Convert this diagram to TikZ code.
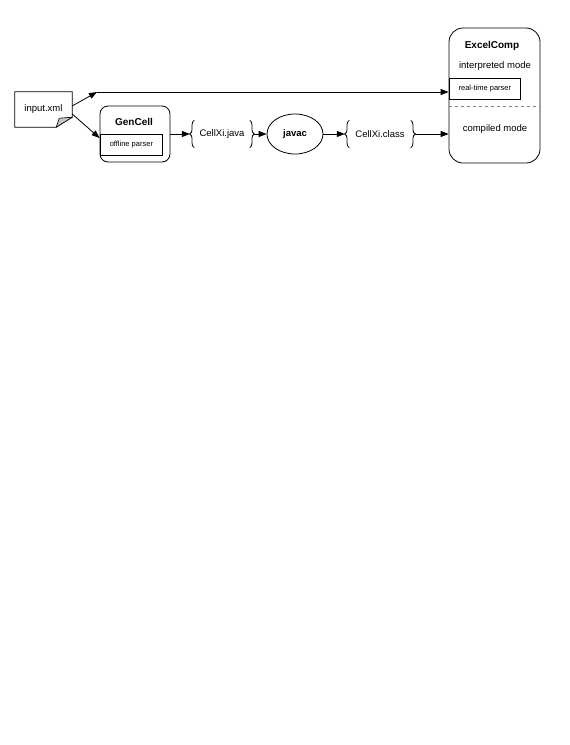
\documentclass[tikz,border=0pt]{standalone}
\usepackage{fontspec}
\setmainfont{Liberation Sans}
\usetikzlibrary{shapes.geometric, arrows.meta, positioning, decorations.pathreplacing}
\tikzset{
    module/.style = {rectangle, rounded corners=8pt, draw=black, line width=0.8pt},
    parser/.style = {rectangle, draw=black, line width=0.8pt, font=\fontsize{7.5}{9}\selectfont},
    filebox/.style = {rectangle, minimum height=27pt, text centered, font=\fontsize{9.5}{11}\selectfont},
    compiler/.style = {ellipse, minimum width=56pt, minimum height=40pt, draw=black, line width=0.8pt, font=\bfseries\fontsize{9.5}{11}\selectfont},
    title/.style = {font=\bfseries\fontsize{10}{12}\selectfont},
    modetext/.style = {font=\fontsize{9.5}{11}\selectfont},
    curly/.style = {decorate, decoration={brace, amplitude=4.5pt}, line width=0.8pt},
    arrow/.style = {line width=0.8pt, -{Triangle[length=8pt, width=6pt]}}
}

\begin{document}
\begin{tikzpicture}[x=1pt, y=-1pt]
\useasboundingbox (0,0) rectangle (570,745);

% input document
\node (input) [minimum width=57pt, minimum height=35pt, font=\fontsize{9.5}{11}\selectfont] at (43.5,109.5) {input.xml};
\draw[line width=0.8pt] (input.north west) -- (input.north east) -- ([yshift=10pt]input.south east)
    -- ([xshift=-16pt]input.south east) -- (input.south west) -- cycle;
\fill[gray!45, draw=black, line width=0.6pt] ([xshift=-16pt]input.south east) -- ([xshift=-13pt, yshift=9pt]input.south east)
    -- ([yshift=10pt]input.south east) -- cycle;
\coordinate (split) at (97,92);

% generator
\node (gencell) [module, minimum width=70pt, minimum height=56pt] at (135,134) {};
\node (gentitle) [title] at (134,122) {GenCell};
\node (offline) [parser, minimum width=62pt, minimum height=21pt, anchor=west] at (100,144.5) {offline parser};

% files and compiler
\node (java) [filebox, minimum width=64pt] at (222,134) {CellXi.java};
\node (javac) [compiler] at (295,134) {javac};
\node (class) [filebox, minimum width=70pt] at (380,134) {CellXi.class};
\draw[curly] ([xshift=4.5pt]java.south west) -- ([xshift=4.5pt]java.north west);
\draw[curly] ([xshift=-4.5pt]java.north east) -- ([xshift=-4.5pt]java.south east);
\draw[curly] ([xshift=4.5pt]class.south west) -- ([xshift=4.5pt]class.north west);
\draw[curly] ([xshift=-4.5pt]class.north east) -- ([xshift=-4.5pt]class.south east);

% runtime
\node (excel) [module, rounded corners=14pt, minimum width=91pt, minimum height=135pt] at (494.5,95.5) {};
\node (exceltitle) [title] at (492,46) {ExcelComp};
\node (interp) [modetext] at (495,66) {interpreted mode};
\node (realtime) [parser, minimum width=71pt, minimum height=21pt, anchor=west] at (449,88.5) {real-time parser};
\draw[dashed, line width=0.4pt, gray] (excel.west |- 0,106) -- (excel.east |- 0,106);
\node (compiled) [modetext] at (495,129) {compiled mode};

\draw[arrow] ([yshift=3.5pt]input.east) -- (split);
\draw[arrow] (split) -- (split -| excel.west);
\draw[arrow] ([yshift=-4.5pt]input.east) -- ([yshift=-4pt]gencell.west);
\draw[arrow] (gencell.east) -- (java.west);
\draw[arrow] (java.east) -- (javac.west);
\draw[arrow] (javac.east) -- (class.west);
\draw[arrow] (class.east) -- (class.east -| excel.west);
\end{tikzpicture}
\end{document}
